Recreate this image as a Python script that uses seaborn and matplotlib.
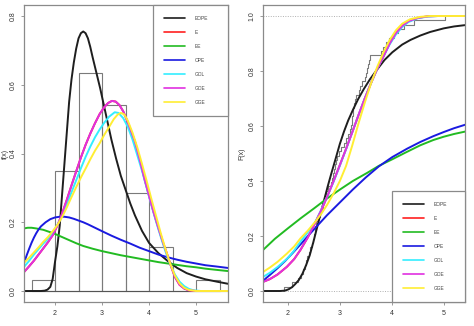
import numpy as np
import pandas as pd
import matplotlib
matplotlib.use("Agg")
import matplotlib.pyplot as plt
import seaborn as sns

# ---- observed sample (63 values) ----
sample = [1.92,
          2.08, 2.20, 2.25, 2.29, 2.32, 2.35, 2.37, 2.41, 2.43, 2.46, 2.49,
          2.51, 2.52, 2.53, 2.55, 2.58, 2.61, 2.64, 2.67, 2.70, 2.72,
          2.74, 2.78, 2.82, 2.85, 2.87, 2.89, 2.91, 2.93, 2.95, 2.98,
          3.03, 3.08, 3.12, 3.16, 3.19, 3.21, 3.23, 3.24, 3.25, 3.26,
          3.27, 3.29, 3.32, 3.36, 3.39, 3.43, 3.48,
          3.51, 3.53, 3.55, 3.57, 3.59, 3.80, 3.84, 3.88, 3.95,
          4.04, 4.12, 4.23, 4.42,
          5.03]
bin_edges = [1.5, 2.0, 2.5, 3.0, 3.5, 4.0, 4.5, 5.0, 5.5]

labels = ["EOPE", "E", "EE", "OPE", "GOL", "GOE", "GGE"]
colors = ["#1e1e1e", "#ff2020", "#22bb22", "#1a1ae0", "#33eeff", "#e030e0", "#ffee33"]

# ---- fitted densities f(x) ----
pdf_eope_x = [1.34, 1.70, 1.78, 1.84, 1.90, 1.95, 2.00, 2.05, 2.10, 2.15, 2.20, 2.25, 2.30,
              2.35, 2.40, 2.45, 2.50, 2.55, 2.60, 2.65, 2.70, 2.75, 2.80, 2.88, 2.96, 3.04,
              3.12, 3.20, 3.30, 3.40, 3.50, 3.60, 3.70, 3.85, 4.00, 4.20, 4.40, 4.60, 4.80,
              5.00, 5.20, 5.45, 5.68]
pdf_eope_y = [0.0, 0.0, 0.001, 0.004, 0.012, 0.035, 0.085, 0.130, 0.190, 0.280, 0.370, 0.460,
              0.550, 0.615, 0.665, 0.705, 0.735, 0.750, 0.755, 0.750, 0.735, 0.710, 0.680,
              0.635, 0.590, 0.540, 0.490, 0.440, 0.385, 0.335, 0.295, 0.255, 0.220, 0.175,
              0.140, 0.110, 0.087, 0.067, 0.052, 0.042, 0.034, 0.027, 0.021]

pdf_goe_x = [1.34, 1.45, 1.55, 1.65, 1.75, 1.85, 1.95, 2.05, 2.15, 2.25, 2.35, 2.45, 2.55,
             2.65, 2.75, 2.85, 2.95, 3.05, 3.13, 3.21, 3.29, 3.37, 3.45, 3.53, 3.61, 3.70,
             3.80, 3.90, 4.00, 4.10, 4.20, 4.30, 4.38, 4.46, 4.55, 4.65, 4.75, 4.85, 5.00,
             5.68]
pdf_goe_y = [0.055, 0.072, 0.088, 0.106, 0.124, 0.142, 0.162, 0.190, 0.225, 0.265, 0.307,
             0.348, 0.388, 0.425, 0.458, 0.488, 0.515, 0.535, 0.547, 0.553, 0.551, 0.541,
             0.523, 0.497, 0.468, 0.435, 0.383, 0.328, 0.277, 0.228, 0.183, 0.140, 0.109,
             0.075, 0.041, 0.018, 0.007, 0.002, 0.0, 0.0]

pdf_e_x = [1.34, 1.45, 1.55, 1.65, 1.75, 1.85, 1.95, 2.05, 2.15, 2.25, 2.35, 2.45, 2.55,
           2.65, 2.75, 2.85, 2.95, 3.05, 3.13, 3.21, 3.29, 3.37, 3.45, 3.53, 3.61, 3.70,
           3.80, 3.90, 4.00, 4.10, 4.20, 4.30, 4.38, 4.46, 4.55, 4.65, 4.75, 4.85, 5.00,
           5.68]
pdf_e_y = [0.055, 0.072, 0.088, 0.106, 0.124, 0.142, 0.162, 0.190, 0.225, 0.265, 0.307,
           0.348, 0.388, 0.425, 0.458, 0.488, 0.515, 0.535, 0.547, 0.553, 0.551, 0.541,
           0.523, 0.497, 0.468, 0.435, 0.383, 0.328, 0.277, 0.228, 0.183, 0.140, 0.109,
           0.075, 0.041, 0.018, 0.007, 0.002, 0.0, 0.0]

pdf_ee_x = [1.34, 1.42, 1.50, 1.60, 1.75, 1.90, 2.00, 2.15, 2.30, 2.45, 2.60, 2.80, 3.00,
            3.20, 3.40, 3.60, 3.80, 4.00, 4.20, 4.40, 4.60, 4.80, 5.00, 5.20, 5.40, 5.68]
pdf_ee_y = [0.182, 0.184, 0.184, 0.182, 0.178, 0.171, 0.166, 0.157, 0.148, 0.139, 0.131,
            0.123, 0.116, 0.110, 0.104, 0.099, 0.094, 0.089, 0.084, 0.080, 0.076, 0.072,
            0.069, 0.065, 0.062, 0.058]

pdf_ope_x = [1.34, 1.40, 1.45, 1.50, 1.55, 1.60, 1.65, 1.70, 1.80, 1.90, 2.00, 2.10, 2.20,
             2.30, 2.40, 2.50, 2.60, 2.70, 2.85, 3.00, 3.20, 3.40, 3.60, 3.80, 4.00, 4.20,
             4.40, 4.60, 4.80, 5.00, 5.20, 5.45, 5.68]
pdf_ope_y = [0.082, 0.105, 0.123, 0.140, 0.155, 0.168, 0.179, 0.188, 0.200, 0.209, 0.214,
             0.216, 0.216, 0.214, 0.210, 0.205, 0.200, 0.194, 0.184, 0.174, 0.161, 0.149,
             0.138, 0.126, 0.116, 0.106, 0.098, 0.091, 0.085, 0.080, 0.075, 0.071, 0.067]

pdf_gol_x = [1.34, 1.45, 1.55, 1.65, 1.75, 1.85, 1.95, 2.05, 2.15, 2.25, 2.35, 2.45, 2.55,
             2.65, 2.75, 2.85, 2.95, 3.05, 3.15, 3.27, 3.35, 3.45, 3.55, 3.65, 3.75, 3.85,
             3.95, 4.05, 4.15, 4.25, 4.35, 4.45, 4.55, 4.65, 4.75, 4.85, 4.95, 5.10, 5.68]
pdf_gol_y = [0.070, 0.088, 0.106, 0.122, 0.138, 0.152, 0.170, 0.192, 0.220, 0.252, 0.287,
             0.322, 0.357, 0.390, 0.420, 0.447, 0.470, 0.490, 0.507, 0.520, 0.518, 0.503,
             0.477, 0.440, 0.395, 0.350, 0.300, 0.250, 0.202, 0.157, 0.115, 0.078, 0.048,
             0.027, 0.014, 0.006, 0.002, 0.0, 0.0]

pdf_gge_x = [1.34, 1.45, 1.55, 1.65, 1.75, 1.85, 1.95, 2.05, 2.15, 2.25, 2.35, 2.45, 2.55,
             2.65, 2.75, 2.85, 2.95, 3.05, 3.15, 3.25, 3.33, 3.40, 3.47, 3.55, 3.65, 3.75,
             3.85, 3.95, 4.05, 4.15, 4.25, 4.35, 4.45, 4.55, 4.65, 4.75, 4.85, 5.00, 5.68]
pdf_gge_y = [0.082, 0.097, 0.112, 0.127, 0.143, 0.157, 0.174, 0.192, 0.215, 0.243, 0.273,
             0.302, 0.330, 0.356, 0.383, 0.408, 0.430, 0.455, 0.477, 0.500, 0.513, 0.518,
             0.514, 0.495, 0.460, 0.418, 0.370, 0.320, 0.268, 0.218, 0.168, 0.122, 0.080,
             0.045, 0.022, 0.009, 0.003, 0.0, 0.0]

# ---- fitted distribution functions F(x) ----
cdf_eope_x = [1.52, 1.85, 1.92, 1.97, 2.02, 2.08, 2.14, 2.21, 2.28, 2.35, 2.42, 2.49, 2.56,
              2.63, 2.70, 2.77, 2.84, 2.92, 3.00, 3.08, 3.16, 3.25, 3.35, 3.46, 3.58, 3.72,
              3.86, 4.01, 4.20, 4.36, 4.55, 4.74, 5.00, 5.20, 5.42]
cdf_eope_y = [0.0, 0.0, 0.001, 0.003, 0.007, 0.014, 0.025, 0.040, 0.063, 0.094, 0.130, 0.178,
              0.230, 0.282, 0.333, 0.383, 0.430, 0.482, 0.535, 0.580, 0.620, 0.658, 0.697,
              0.734, 0.770, 0.806, 0.840, 0.868, 0.896, 0.913, 0.929, 0.942, 0.955, 0.962,
              0.967]

cdf_goe_x = [1.52, 1.65, 1.80, 1.98, 2.12, 2.24, 2.38, 2.52, 2.64, 2.76, 2.88, 3.00, 3.12,
             3.24, 3.36, 3.48, 3.60, 3.72, 3.84, 3.96, 4.08, 4.20, 4.32, 4.50, 4.70, 4.90,
             5.42]
cdf_goe_y = [0.033, 0.043, 0.060, 0.088, 0.116, 0.149, 0.194, 0.246, 0.293, 0.345, 0.400,
             0.458, 0.517, 0.578, 0.640, 0.700, 0.756, 0.808, 0.853, 0.900, 0.938, 0.964,
             0.981, 0.993, 0.999, 1.0, 1.0]

cdf_e_x = [1.52, 1.65, 1.80, 1.98, 2.12, 2.24, 2.38, 2.52, 2.64, 2.76, 2.88, 3.00, 3.12,
           3.24, 3.36, 3.48, 3.60, 3.72, 3.84, 3.96, 4.08, 4.20, 4.32, 4.50, 4.70, 4.90,
           5.42]
cdf_e_y = [0.033, 0.043, 0.060, 0.088, 0.116, 0.149, 0.194, 0.246, 0.293, 0.345, 0.400,
           0.458, 0.517, 0.578, 0.640, 0.700, 0.756, 0.808, 0.853, 0.900, 0.938, 0.964,
           0.981, 0.993, 0.999, 1.0, 1.0]

cdf_ee_x = [1.52, 1.75, 2.00, 2.25, 2.50, 2.75, 3.01, 3.25, 3.53, 3.75, 4.01, 4.25, 4.55,
            4.80, 5.00, 5.20, 5.42]
cdf_ee_y = [0.149, 0.190, 0.228, 0.265, 0.300, 0.336, 0.370, 0.400, 0.430, 0.455, 0.479,
            0.502, 0.530, 0.549, 0.561, 0.571, 0.580]

cdf_ope_x = [1.52, 1.65, 1.80, 1.95, 2.10, 2.25, 2.40, 2.55, 2.75, 3.00, 3.25, 3.50, 3.75,
             4.01, 4.30, 4.55, 4.80, 5.00, 5.20, 5.42]
cdf_ope_y = [0.037, 0.058, 0.083, 0.110, 0.140, 0.171, 0.203, 0.234, 0.275, 0.322, 0.369,
             0.413, 0.453, 0.487, 0.518, 0.542, 0.563, 0.578, 0.592, 0.605]

cdf_gol_x = [1.52, 1.65, 1.80, 2.00, 2.12, 2.24, 2.38, 2.52, 2.64, 2.76, 2.88, 3.00, 3.12,
             3.24, 3.36, 3.48, 3.60, 3.72, 3.84, 3.96, 4.08, 4.20, 4.32, 4.50, 4.70, 4.90,
             5.42]
cdf_gol_y = [0.051, 0.066, 0.087, 0.120, 0.147, 0.179, 0.213, 0.248, 0.295, 0.345, 0.398,
             0.456, 0.516, 0.578, 0.640, 0.700, 0.756, 0.808, 0.853, 0.897, 0.933, 0.960,
             0.978, 0.992, 0.998, 1.0, 1.0]

cdf_gge_x = [1.52, 1.65, 1.80, 1.98, 2.12, 2.24, 2.38, 2.52, 2.64, 2.76, 2.88, 3.00, 3.12,
             3.24, 3.36, 3.48, 3.60, 3.72, 3.84, 3.96, 4.08, 4.20, 4.35, 4.55, 4.75, 5.42]
cdf_gge_y = [0.069, 0.085, 0.106, 0.136, 0.162, 0.191, 0.219, 0.250, 0.280, 0.315, 0.355,
             0.400, 0.455, 0.530, 0.610, 0.685, 0.755, 0.815, 0.868, 0.913, 0.948, 0.972,
             0.988, 0.997, 1.0, 1.0]

pdf_curves = [(pdf_eope_x, pdf_eope_y), (pdf_e_x, pdf_e_y), (pdf_ee_x, pdf_ee_y),
              (pdf_ope_x, pdf_ope_y), (pdf_gol_x, pdf_gol_y), (pdf_goe_x, pdf_goe_y),
              (pdf_gge_x, pdf_gge_y)]
cdf_curves = [(cdf_eope_x, cdf_eope_y), (cdf_e_x, cdf_e_y), (cdf_ee_x, cdf_ee_y),
              (cdf_ope_x, cdf_ope_y), (cdf_gol_x, cdf_gol_y), (cdf_goe_x, cdf_goe_y),
              (cdf_gge_x, cdf_gge_y)]

sns.set_style("white")
plt.rcParams["font.family"] = ["Liberation Sans", "DejaVu Sans"]

W, H = 474, 326
fig = plt.figure(figsize=(W / 100, H / 100), dpi=100)
ax1 = fig.add_axes([24 / W, 1 - 302 / H, 204 / W, 297 / H])
ax2 = fig.add_axes([263 / W, 1 - 302 / H, 202 / W, 297 / H])

frame_col = "#8a8a8a"
curve_lw = 1.4

# --- left: histogram with fitted densities ---
sns.histplot(x=sample, bins=bin_edges, stat="density", fill=False,
             element="bars", color="#7a7a7a", linewidth=0.8, ax=ax1)
ax1.axhline(0, color="#555555", lw=0.8, zorder=1)
for (xs, ys), lab, col in zip(pdf_curves, labels, colors):
    sns.lineplot(x=xs, y=ys, color=col, lw=curve_lw, label=lab, ax=ax1)
ax1.set_xlim(1.34, 5.68)
ax1.set_ylim(-0.032, 0.832)
ax1.set_yticks([0.0, 0.2, 0.4, 0.6, 0.8])
ax1.set_ylabel("f(x)")

# --- right: empirical CDF with fitted distribution functions ---
for yv in (0.0, 1.0):
    ax2.axhline(yv, color="#b0b0b0", lw=0.7, ls=(0, (1, 1.5)), zorder=1)
sns.ecdfplot(x=sample, color="#7a7a7a", lw=0.8, ax=ax2)
for (xs, ys), lab, col in zip(cdf_curves, labels, colors):
    sns.lineplot(x=xs, y=ys, color=col, lw=curve_lw, label=lab, ax=ax2)
ax2.set_xlim(1.52, 5.41)
ax2.set_ylim(-0.04, 1.04)
ax2.set_yticks([0.0, 0.2, 0.4, 0.6, 0.8, 1.0])
ax2.set_ylabel("F(x)")

for ax in (ax1, ax2):
    ax.set_xticks([2, 3, 4, 5])
    ax.set_xticklabels(["2", "3", "4", "5"])
    ax.set_yticklabels([f"{v:.1f}" for v in ax.get_yticks()], rotation=90, va="center")
    ax.set_xlabel("")
    ax.tick_params(axis="both", which="both", direction="out", length=2.5, width=0.6,
                   color=frame_col, labelsize=5, labelcolor="#333333", pad=3,
                   bottom=True, left=True)
    ax.yaxis.label.set_size(5)
    ax.yaxis.label.set_color("#333333")
    for sp in ax.spines.values():
        sp.set_color(frame_col)
        sp.set_linewidth(0.9)

ax1.yaxis.set_label_coords(-0.075, 0.5)
ax2.yaxis.set_label_coords(-0.088, 0.5)

leg_kw = dict(mode="expand", borderaxespad=0, fontsize=3.5, frameon=True, fancybox=False,
              borderpad=2.3, labelspacing=1.85, handlelength=4.3, handletextpad=2.0,
              edgecolor=frame_col, labelcolor="#444444", framealpha=1)
leg1 = ax1.legend(loc="upper left", bbox_to_anchor=(0.632, 0.0, 0.368, 1.0), **leg_kw)
leg2 = ax2.legend(loc="lower left", bbox_to_anchor=(0.639, 0.0, 0.361, 1.0), **leg_kw)
for leg in (leg1, leg2):
    leg.get_frame().set_linewidth(0.9)
    for h in leg.legend_handles:
        h.set_linewidth(1.2)

fig.savefig("out.png", dpi=100)
